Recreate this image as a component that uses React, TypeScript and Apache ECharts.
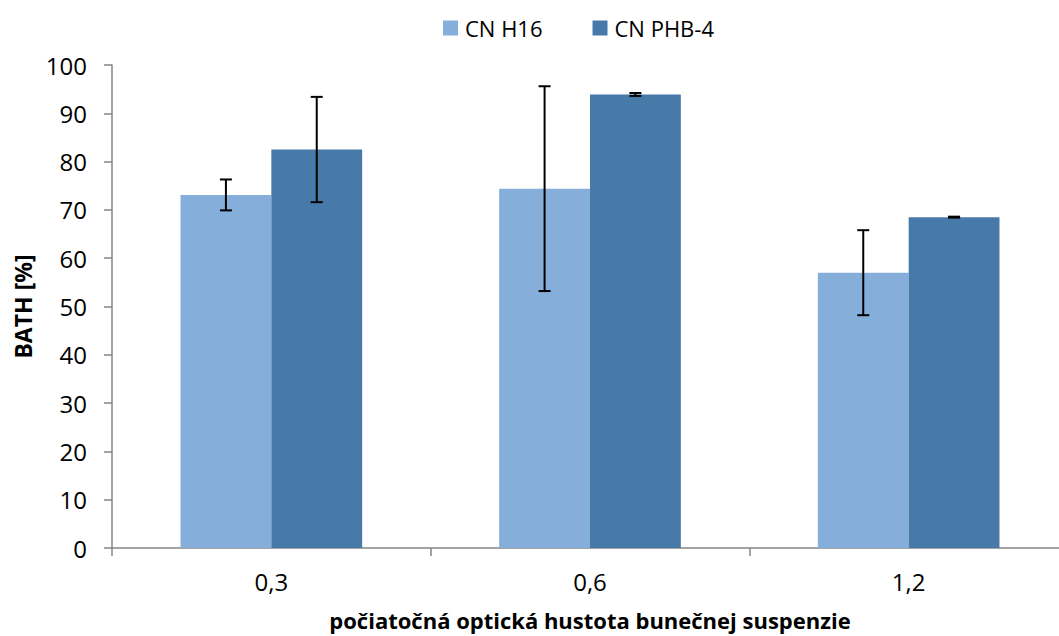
import React, { useEffect, useRef } from "react";
import * as echarts from "echarts";

const categories = ["0,3", "0,6", "1,2"];
const seriesNames = ["CN H16", "CN PHB-4"];
const h16Values = [73.1, 74.4, 57.0];
const phb4Values = [82.5, 93.9, 68.5];
const h16Errors = [3.2, 21.2, 8.8];
const phb4Errors = [10.9, 0.3, 0.1];
const yTicks = [0, 10, 20, 30, 40, 50, 60, 70, 80, 90, 100];

const COLORS = ["#85AEDB", "#4779A9"];
const FONT = "'Open Sans', 'Noto Sans', sans-serif";
const CAT_GAP = 0.43;

export default function App() {
  const ref = useRef<HTMLDivElement>(null);
  useEffect(() => {
    document.body.style.margin = "0";
    if (!ref.current) return;
    const chart = echarts.init(ref.current, null, { renderer: "svg" });

    const errData: number[][] = [];
    h16Values.forEach((v, i) => errData.push([i, v, h16Errors[i], 0]));
    phb4Values.forEach((v, i) => errData.push([i, v, phb4Errors[i], 1]));

    chart.setOption({
      animation: false,
      legend: {
        data: seriesNames,
        left: 438,
        top: 12,
        itemWidth: 15,
        itemHeight: 15,
        itemGap: 50,
        icon: "rect",
        textStyle: { fontFamily: FONT, fontSize: 22, color: "#000", padding: [0, 0, 0, 2] },
      },
      grid: { left: 112, right: -9, top: 65, bottom: 88, containLabel: false, outerBoundsMode: "none" },
      xAxis: {
        type: "category",
        data: categories,
        name: "počiatočná optická hustota bunečnej suspenzie",
        nameLocation: "middle",
        nameGap: 61,
        nameTextStyle: { fontFamily: FONT, fontSize: 22, fontWeight: "bold", color: "#000" },
        axisLine: { lineStyle: { color: "#868686", width: 1.5 } },
        axisTick: { show: true, length: 8, lineStyle: { color: "#868686", width: 1.5 } },
        axisLabel: { fontFamily: FONT, fontSize: 24, color: "#000", margin: 21 },
        splitLine: { show: false },
      },
      yAxis: {
        type: "value",
        min: 0,
        max: 100,
        interval: 10,
        name: "BATH [%]",
        nameLocation: "middle",
        nameGap: 77,
        nameRotate: 90,
        nameTextStyle: { fontFamily: FONT, fontSize: 23, fontWeight: "bold", color: "#000" },
        axisLine: { show: true, lineStyle: { color: "#868686", width: 1.5 } },
        axisTick: { show: true, length: 8, lineStyle: { color: "#868686", width: 1.5 } },
        axisLabel: {
          fontFamily: FONT,
          fontSize: 24,
          color: "#000",
          margin: 25,
          formatter: (v: number) => (yTicks.includes(v) ? String(v) : ""),
        },
        splitLine: { show: false },
      },
      series: [
        {
          name: seriesNames[0],
          type: "bar",
          data: h16Values,
          barGap: "0%",
          barCategoryGap: CAT_GAP * 100 + "%",
          itemStyle: { color: COLORS[0] },
        },
        {
          name: seriesNames[1],
          type: "bar",
          data: phb4Values,
          barGap: "0%",
          barCategoryGap: CAT_GAP * 100 + "%",
          itemStyle: { color: COLORS[1] },
        },
        {
          type: "custom",
          name: "errors",
          data: errData,
          z: 10,
          renderItem: (params: any, api: any) => {
            const cat = api.value(0);
            const val = api.value(1);
            const err = api.value(2);
            const s = api.value(3);
            const catW = api.size([1, 0])[0];
            const bw = (catW * (1 - CAT_GAP)) / 2;
            const center = api.coord([cat, val]);
            const x = center[0] + (s === 0 ? -bw / 2 : bw / 2);
            const top = api.coord([cat, val + err])[1];
            const bot = api.coord([cat, val - err])[1];
            const cap = 6;
            const style = { stroke: "#000", lineWidth: 2 };
            return {
              type: "group",
              children: [
                { type: "line", shape: { x1: x, y1: top, x2: x, y2: bot }, style },
                { type: "line", shape: { x1: x - cap, y1: top, x2: x + cap, y2: top }, style },
                { type: "line", shape: { x1: x - cap, y1: bot, x2: x + cap, y2: bot }, style },
              ],
            };
          },
        },
      ],
    });
    return () => chart.dispose();
  }, []);
  return <div ref={ref} style={{ width: 1059, height: 636 }} />;
}
